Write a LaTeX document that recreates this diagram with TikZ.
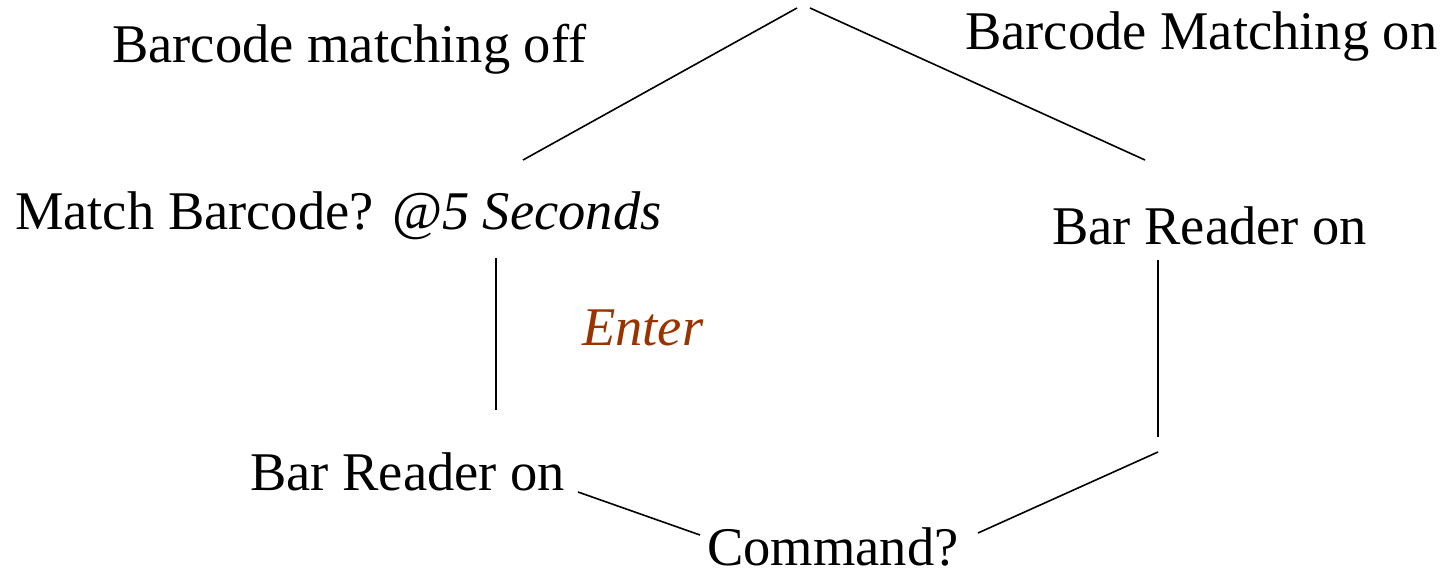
\documentclass[tikz,border=0pt]{standalone}
\usepackage{fontspec}
\setmainfont{Liberation Serif}
\definecolor{enterbrown}{RGB}{153,51,0}
\begin{document}
\begin{tikzpicture}[x=1pt,y=-1pt,
  lbl/.style={anchor=base west,inner sep=0pt,font=\fontsize{54.5}{60}\selectfont},
  vertex/.style={inner sep=0pt,minimum size=0pt},
  link/.style={line width=1.6pt}]
\useasboundingbox (0,0) rectangle (1446,572);

% states of the cycle
\node[vertex] (top) at (803,8) {};
\node[lbl] (match) at (15,230) {Match Barcode? @\textit{5 Seconds}};
\node[lbl] (brR) at (1052,245) {Bar Reader on};
\node[lbl] (brL) at (250,490) {Bar Reader on};
\node[lbl] (cmd) at (707,565) {Command?};
\node[vertex] (rb) at (1158,445) {};

% labels
\node[lbl] (off) at (112,63) {Barcode matching off};
\node[lbl] (mon) at (965,50) {Barcode Matching on};
\node[lbl,text=enterbrown] (enter) at (582,345) {\textit{Enter}};

% connectors
\draw[link] ([shift={(-6,0)}]top.center) -- ([shift={(508,-70)}]match.base west);
\draw[link] ([shift={(7,0)}]top.center) -- ([shift={(93,-85)}]brR.base west);
\draw[link] ([shift={(481,28)}]match.base west) -- ([shift={(246,-80)}]brL.base west);
\draw[link] ([shift={(106,15)}]brR.base west) -- ([shift={(0,-8)}]rb.center);
\draw[link] ([shift={(0,7)}]rb.center) -- ([shift={(271,-32)}]cmd.base west);
\draw[link] ([shift={(328,2)}]brL.base west) -- ([shift={(-7,-30)}]cmd.base west);
\end{tikzpicture}
\end{document}
